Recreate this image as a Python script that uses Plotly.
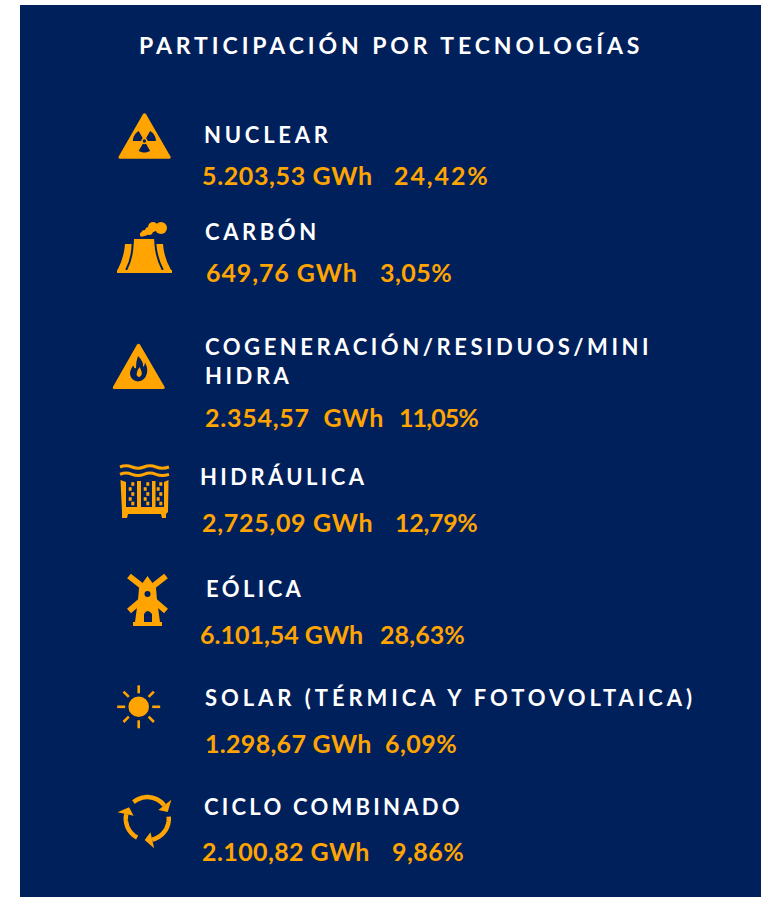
import json
import math
import plotly.graph_objects as go

TITLE = "PARTICIPACIÓN POR TECNOLOGÍAS"
technologies = ["NUCLEAR", "CARBÓN", "COGENERACIÓN/RESIDUOS/MINI<br>HIDRA", "HIDRÁULICA",
                "EÓLICA", "SOLAR (TÉRMICA Y FOTOVOLTAICA)", "CICLO COMBINADO"]
energy = ["5.203,53 GWh", "649,76 GWh", "2.354,57  GWh", "2,725,09 GWh",
          "6.101,54 GWh", "1.298,67 GWh", "2.100,82 GWh"]
share = ["24,42%", "3,05%", "11,05%", "12,79%", "28,63%", "6,09%", "9,86%"]

NAME_POS = [(204, 134), (205, 231), (205, 361), (200, 476), (205.5, 588), (205, 697), (204, 806)]
ENERGY_POS = [(201.5, 176), (205.5, 273), (204.5, 418), (202, 523), (200, 635), (204.5, 744), (202, 852)]
SHARE_X = [394, 380, 399, 395, 380, 385, 392]

TITLE_SPACING = 3.9
NAME_SPACING = [3.77, 3.6, 3.56, 3.4, 3.4, 3.95, 3.24]
ENERGY_SPACING = [0.63, 0.9, 0.76, 0.7, 0.0, 0.3, 0.4]
SHARE_SPACING = [1.9, 0.5, -0.9, -0.3, 0.1, 0.5, 0.5]

BG = "#00205b"
OR = "#ffa400"
FONT = "Lato"


def fill(path, color=OR):
    return dict(type="path", path=path, fillcolor=color, line=dict(width=0), layer="above")


def stroke(path, w, color=OR):
    return dict(type="path", path=path, line=dict(color=color, width=w), layer="above")


def circle(cx, cy, r, color=OR):
    return dict(type="circle", x0=cx - r, x1=cx + r, y0=cy - r, y1=cy + r,
                fillcolor=color, line=dict(width=0), layer="above")


def rect(x0, y0, x1, y1, color=OR):
    return dict(type="rect", x0=x0, x1=x1, y0=y0, y1=y1, fillcolor=color, line=dict(width=0), layer="above")


def triangle(cx, top, left, right, base):
    return fill(f"M{cx-1.6},{top+1.2} Q{cx},{top-0.6} {cx+1.6},{top+1.2} L{right},{base-2.2} "
                f"Q{right+0.8},{base} {right-1.5},{base} L{left+1.5},{base} Q{left-0.8},{base} {left},{base-2.2} Z")


def arc_pts(cx, cy, r, a0, a1, n=24):
    return [(cx + r * math.cos(math.radians(a0 + (a1 - a0) * i / n)),
             cy + r * math.sin(math.radians(a0 + (a1 - a0) * i / n))) for i in range(n + 1)]


def poly(pts, close=False):
    return "M" + " L".join(f"{x:.2f},{y:.2f}" for x, y in pts) + (" Z" if close else "")


shapes = [rect(20, 5, 761, 900, BG)]

# nuclear icon
shapes.append(triangle(144.5, 113, 118.7, 170.5, 158.7))
tc = (144.4, 141)
for a in (-150, -30, 90):
    pts = arc_pts(tc[0], tc[1], 11.5, a - 30, a + 30, 8) + arc_pts(tc[0], tc[1], 3.2, a + 30, a - 30, 4)
    shapes.append(fill(poly(pts, True), BG))
shapes.append(circle(144.4, 141, 1.7, BG))

# coal plant icon
shapes.append(fill("M125,244 L135,244 L135,270 L117.5,270 Q124,258 125,244 Z"))
shapes.append(fill("M153,244 L163,244 Q164,258 171,270 L153,270 Z"))
shapes.append(fill("M134,239 L154,239 Q155,256 161,270 L128,270 Q134,256 134,239 Z"))
shapes.append(stroke("M132.6,244 Q132.4,258 126.2,270", 2, BG))
shapes.append(stroke("M155.4,244 Q156.4,258 162.8,270", 2, BG))
shapes.append(rect(117, 270, 172, 273))
for cx, cy, r in [(161, 228, 6), (153, 227, 5), (149, 231, 4), (144.5, 233, 3), (142, 234.5, 2.2)]:
    shapes.append(circle(cx, cy, r))

# fire icon
shapes.append(triangle(138.5, 343.5, 113, 164.5, 389))
shapes.append(fill("M138,356 Q144,362 143,367 Q145,366 145,362.5 Q148,368 147,373 Q145,381 138,381.5 "
                   "Q131,381 130,374 Q130,369 133.5,365.5 Q134,369 136,368 Q136,361 138,356 Z", BG))
shapes.append(fill("M139.5,367 Q142.5,372 141.5,375 Q139,379 136.5,375 Q136.5,371 139.5,367 Z"))

# hydro icon
for wy in (467, 474.3):
    shapes.append(stroke(f"M120,{wy} Q126,{wy-2.5} 132,{wy} Q138,{wy+2.5} 144,{wy} "
                         f"Q150,{wy-2.5} 156,{wy} Q162,{wy+2.5} 169,{wy}", 3))
shapes.append(fill("M120.5,480 L126,482 L126,507 L164,507 L164,482 L168.5,480 L168,512 L166,514 "
                   "L166,518 L162,518 L161,514 L128,514 L127,518 L122,518 L122,512 Z"))
shapes.append(rect(126, 507, 164, 514))
for x0, x1 in [(137, 141), (152, 155.5)]:
    shapes.append(rect(x0, 481, x1, 508))
for col in (131.5, 146.5, 159.5):
    for k, dy in enumerate((484, 489, 494, 499, 503.5)):
        dx = 1.3 if k % 2 == 0 else -1.3
        shapes.append(rect(col + dx - 1.5, dy - 1.8, col + dx + 1.5, dy + 1.8))

# windmill icon
for x0, y0, x1, y1 in [(129, 576, 143, 587), (166, 576, 152, 587), (129, 611, 143, 599), (166, 611, 152, 599)]:
    shapes.append(stroke(f"M{x0},{y0} L{x1},{y1}", 6))
shapes.append(fill("M147.5,576 L156,588 L157,600 L160,622 L135,622 L138,600 L139,588 Z"))
shapes.append(rect(133, 622, 162, 626))
shapes.append(circle(147.5, 594, 3, BG))
shapes.append(fill("M144,622 L144,614 Q147.5,608 152,614 L152,622 Z", BG))

# sun icon
sx, sy = 138.7, 706.8
shapes.append(circle(sx, sy, 10.3))
for a in range(0, 360, 45):
    c, s = math.cos(math.radians(a)), math.sin(math.radians(a))
    r0, r1 = (13.5, 21.5) if a % 90 == 0 else (14, 21.5)
    shapes.append(stroke(f"M{sx+r0*c:.2f},{sy+r0*s:.2f} L{sx+r1*c:.2f},{sy+r1*s:.2f}", 2.6))

# cycle icon
cc = (147.3, 818.6)
R = 21.5
for a0, a1 in [(-130, -38), (-5, 77), (118, 192)]:
    shapes.append(stroke(poly(arc_pts(cc[0], cc[1], R, a0, a1)), 4.5))
    ta = math.radians(a1 + 20)
    tip = (cc[0] + R * math.cos(ta), cc[1] + R * math.sin(ta))
    ba = math.radians(a1)
    head = [tip,
            (cc[0] + (R + 9) * math.cos(ba), cc[1] + (R + 9) * math.sin(ba)),
            (cc[0] + (R - 7.5) * math.cos(ba), cc[1] + (R - 7.5) * math.sin(ba))]
    shapes.append(fill(poly(head, True)))

annotations = []
spacings = []


def label(x, y, text, color, size, spacing, yshift):
    annotations.append(dict(x=x, y=y, text=text, xref="x", yref="y", xanchor="left", yanchor="middle",
                            align="left", showarrow=False, borderpad=0, borderwidth=0, yshift=yshift,
                            font=dict(family=FONT, size=size, color=color, weight=700)))
    spacings.append(spacing)


label(139, 45, TITLE, "#ffffff", 23, TITLE_SPACING, 0)
for i, name in enumerate(technologies):
    label(NAME_POS[i][0], NAME_POS[i][1], name, "#ffffff", 22, NAME_SPACING[i], 0)
    label(ENERGY_POS[i][0], ENERGY_POS[i][1], energy[i], OR, 25, ENERGY_SPACING[i], 1)
    label(SHARE_X[i], ENERGY_POS[i][1], share[i], OR, 25, SHARE_SPACING[i], 1)

fig = go.Figure()
fig.update_layout(width=764, height=897, margin=dict(l=0, r=0, t=0, b=0), autosize=False,
                  paper_bgcolor="#ffffff", plot_bgcolor="#ffffff", showlegend=False,
                  xaxis=dict(range=[0, 764], visible=False, fixedrange=True),
                  yaxis=dict(range=[897, 0], visible=False, fixedrange=True),
                  shapes=shapes, annotations=annotations)

post = """
document.body.style.margin='0';document.documentElement.style.overflow='hidden';
var sp=%s;
document.querySelectorAll('.annotation-text').forEach(function(t,i){t.style.letterSpacing=sp[i]+'px';});
""" % json.dumps(spacings)
fig.write_html("out.html", post_script=post, config=dict(displayModeBar=False))
